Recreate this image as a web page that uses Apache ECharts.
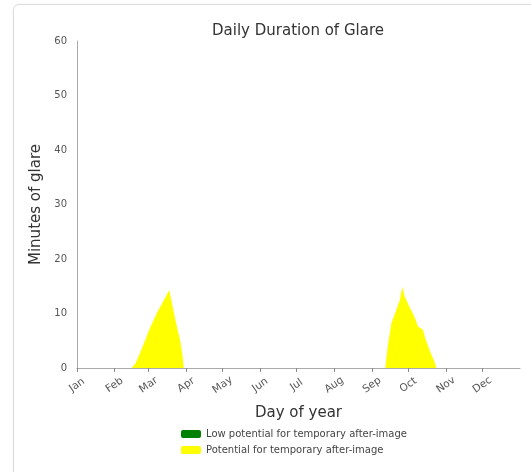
<!DOCTYPE html>
<html>
<head>
<meta charset="utf-8">
<script src="https://cdn.jsdelivr.net/npm/echarts@6/dist/echarts.min.js"></script>
<style>
    html, body { margin: 0; padding: 0; background: #fff; }
    .card {
        position: absolute;
        left: 13px;
        top: 4px;
        width: 540px;
        height: 490px;
        border: 1px solid #dcdcdc;
        border-radius: 6px;
        box-shadow: 0 0 2px rgba(0, 0, 0, 0.08);
    }
    #chart {
        position: absolute;
        left: 0;
        top: 0;
        width: 531px;
        height: 472px;
    }
</style>
</head>
<body>
<div class="card"></div>
<div id="chart"></div>
<script>
// month tick positions (day of year) and labels
const monthStarts = [0, 31, 59, 90, 120, 151, 181, 212, 243, 273, 304, 334];
const monthNames = ['Jan', 'Feb', 'Mar', 'Apr', 'May', 'Jun', 'Jul', 'Aug', 'Sep', 'Oct', 'Nov', 'Dec'];

// yellow: potential for temporary after-image (minutes per day)
const glareDays = [45, 48, 52, 56, 60, 66, 72, 76, 77, 81, 85, 87, 88,
    254, 256, 259, 263, 266, 268, 270, 274, 278, 281, 285, 287, 291, 295, 296];
const glareMinutes = [0, 0.8, 2.8, 5.0, 7.3, 10.2, 12.6, 14.3, 13.2, 8.9, 5.0, 2.2, 0,
    0, 3.9, 8.2, 10.6, 12.5, 14.9, 13.1, 11.2, 9.4, 7.6, 7.0, 5.4, 3.0, 0.9, 0];

// green: low potential (no values in this chart)
const lowDays = [];
const lowMinutes = [];

const font = 'DejaVu Sans';

const myChart = echarts.init(document.getElementById('chart'));

let option = {
    backgroundColor: 'transparent',
    animation: false,
    textStyle: { fontFamily: font },
    title: {
        text: 'Daily Duration of Glare',
        left: 293,
        textAlign: 'center',
        top: 19,
        textStyle: { fontFamily: font, fontSize: 15, fontWeight: 'normal', color: '#333' }
    },
    legend: {
        orient: 'vertical',
        left: 176,
        top: 424,
        itemWidth: 20,
        itemHeight: 8,
        itemGap: 6,
        icon: 'roundRect',
        textStyle: { fontFamily: font, fontSize: 10, color: '#444' },
        data: ['Low potential for temporary after-image', 'Potential for temporary after-image']
    },
    grid: { left: 77, right: 11, top: 41, bottom: 104 },
    xAxis: {
        type: 'value',
        min: 0,
        max: 365,
        name: 'Day of year',
        nameLocation: 'middle',
        nameGap: 38,
        nameTextStyle: { fontFamily: font, fontSize: 15, color: '#333' },
        splitLine: { show: false },
        axisLine: { lineStyle: { color: '#aaa' } },
        axisTick: { show: true, length: 4, customValues: monthStarts, lineStyle: { color: '#888' } },
        axisLabel: {
            customValues: monthStarts,
            rotate: 35,
            align: 'center',
            verticalAlign: 'middle',
            fontSize: 10.5,
            color: '#555',
            margin: 17,
            formatter: (v) => monthNames[monthStarts.indexOf(v)] || ''
        }
    },
    yAxis: {
        type: 'value',
        min: 0,
        max: 60,
        interval: 10,
        name: 'Minutes of glare',
        nameLocation: 'middle',
        nameGap: 30,
        nameTextStyle: { fontFamily: font, fontSize: 15, color: '#333' },
        splitLine: { show: false },
        axisLine: { show: true, lineStyle: { color: '#aaa' } },
        axisTick: { show: false },
        axisLabel: { fontSize: 10, color: '#555', margin: 10 }
    },
    series: [
        {
            name: 'Low potential for temporary after-image',
            type: 'line',
            color: '#008000',
            showSymbol: false,
            lineStyle: { width: 0 },
            areaStyle: { color: '#008000', opacity: 1 },
            data: lowDays.map((d, i) => [d, lowMinutes[i]])
        },
        {
            name: 'Potential for temporary after-image',
            type: 'line',
            color: '#ffff00',
            showSymbol: false,
            lineStyle: { width: 0 },
            areaStyle: { color: '#ffff00', opacity: 1 },
            data: glareDays.map((d, i) => [d, glareMinutes[i]])
        }
    ]
};

option && myChart.setOption(option);
</script>
</body>
</html>
